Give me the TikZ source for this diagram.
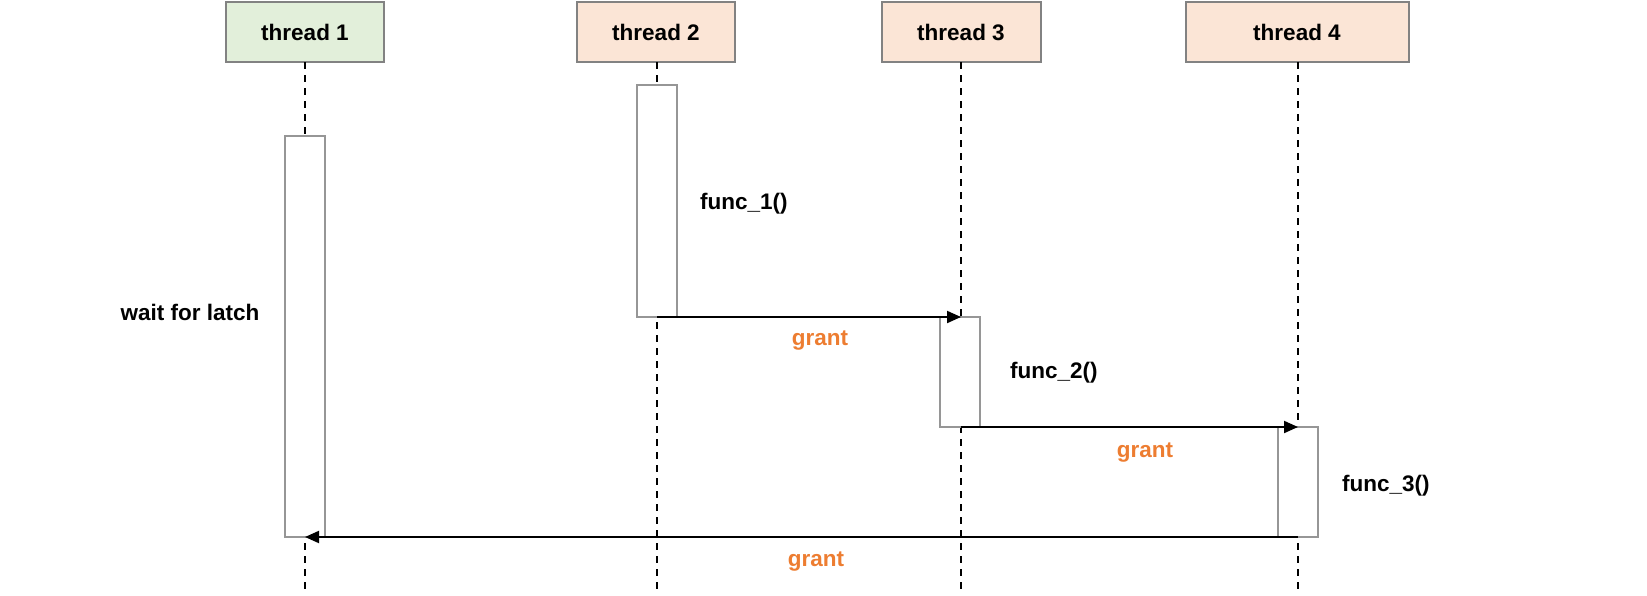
\documentclass[tikz,border=0pt]{standalone}
\usepackage{fontspec}
\setmainfont{Liberation Sans}
\usetikzlibrary{arrows.meta}
\definecolor{hdrgreen}{RGB}{226,239,218}
\definecolor{hdrorange}{RGB}{251,229,214}
\definecolor{boxgray}{RGB}{130,130,130}
\definecolor{actgray}{RGB}{150,150,150}
\definecolor{grantorange}{RGB}{237,125,49}
\tikzset{
  hdr/.style={draw=boxgray, line width=2pt, minimum height=60pt, inner sep=0pt, outer sep=0pt,
    font=\fontsize{22.5}{26}\selectfont\bfseries},
  act/.style={draw=actgray, fill=white, line width=2pt, minimum width=40pt, inner sep=0pt, outer sep=0pt},
  life/.style={draw=black, line width=2pt, dash pattern=on 7pt off 6pt},
  msg/.style={draw=black, line width=2pt, -{Triangle[length=14pt,width=12pt]}},
  lbl/.style={font=\fontsize{22.5}{26}\selectfont\bfseries, inner sep=0pt},
  glbl/.style={lbl, text=grantorange},
}
\begin{document}
\begin{tikzpicture}[x=1pt,y=-1pt]
\useasboundingbox (0,0) rectangle (1647,595);
% headers
\node[hdr, fill=hdrgreen, minimum width=158pt] (th1) at (305,32) {thread 1};
\node[hdr, fill=hdrorange, minimum width=158pt] (th2) at (656,32) {thread 2};
\node[hdr, fill=hdrorange, minimum width=159pt] (th3) at (961,32) {thread 3};
\node[hdr, fill=hdrorange, minimum width=223pt] (th4) at (1297,32) {thread 4};
% lifeline ends
\coordinate (e1) at (305,595);
\coordinate (e2) at (657,595);
\coordinate (e3) at (961,595);
\coordinate (e4) at (1298,595);
\draw[life] (th1.south -| e1) -- (e1);
\draw[life] (th2.south -| e2) -- (e2);
\draw[life] (th3.south -| e3) -- (e3);
\draw[life] (th4.south -| e4) -- (e4);
% activations
\node[act, minimum height=401pt] (a1) at (305,336.5) {};
\node[act, minimum height=232pt] (a2) at (657,201) {};
\node[act, minimum height=110pt] (a3) at (960,372) {};
\node[act, minimum height=110pt] (a4) at (1298,482) {};
% messages
\coordinate (m1s) at (a2.south);
\coordinate (m1e) at (a3.north -| e3);
\coordinate (m2s) at (a3.south -| e3);
\coordinate (m2e) at (a4.north);
\draw[msg] (m1s) -- (m1e);
\draw[msg] (m2s) -- (m2e);
\draw[msg] (a4.south) -- (a1.south);
% labels
\node[glbl] (g1) at (820,341) {grant};
\node[glbl] (g2) at (1145,453) {grant};
\node[glbl] (g3) at (816,562) {grant};
\node[lbl, anchor=west] (f1) at (700,204) {func\_1()};
\node[lbl, anchor=west] (f2) at (1010,373) {func\_2()};
\node[lbl, anchor=west] (f3) at (1342,486) {func\_3()};
\node[lbl] (w) at (190,312) {wait for latch};
\end{tikzpicture}
\end{document}
